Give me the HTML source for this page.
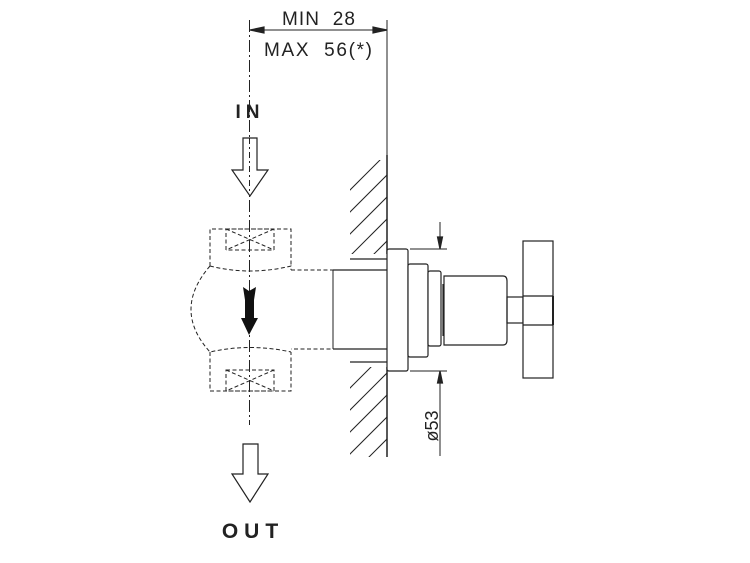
<!DOCTYPE html>
<html><head><meta charset="utf-8"><style>body{margin:0;background:#fff}svg{display:block}</style></head><body>
<svg width="750" height="563" viewBox="0 0 750 563" xmlns="http://www.w3.org/2000/svg" font-family="Liberation Sans, sans-serif">
<defs><clipPath id="hc"><rect x="350" y="160" width="37" height="297"/></clipPath></defs>
<g stroke="#222" fill="none" stroke-width="1.2">
<line x1="249.5" y1="20" x2="249.5" y2="425" stroke-dasharray="12,3,2,3" stroke-width="1"/>
<line x1="387" y1="20" x2="387" y2="160" stroke-width="1"/>
<line x1="250" y1="30" x2="387" y2="30" stroke-width="1"/>
<path d="M250,30 l14,-3 v6z M387,30 l-14,-3 v6z" fill="#222"/>
<line x1="387" y1="155" x2="387" y2="457" stroke-width="1.5"/>
<g clip-path="url(#hc)" stroke-width="1">
<line x1="330" y1="210" x2="390" y2="150"/><line x1="330" y1="232" x2="390" y2="172"/>
<line x1="330" y1="254" x2="390" y2="194"/><line x1="330" y1="276" x2="390" y2="216"/>
<line x1="330" y1="298" x2="390" y2="238"/><line x1="330" y1="320" x2="390" y2="260"/>
<line x1="330" y1="342" x2="390" y2="282"/><line x1="330" y1="364" x2="390" y2="304"/>
<line x1="330" y1="386" x2="390" y2="326"/><line x1="330" y1="408" x2="390" y2="348"/>
<line x1="330" y1="430" x2="390" y2="370"/><line x1="330" y1="452" x2="390" y2="392"/>
<line x1="330" y1="474" x2="390" y2="414"/><line x1="330" y1="496" x2="390" y2="436"/>
<line x1="330" y1="518" x2="390" y2="458"/>
</g>
<rect x="349" y="254" width="38" height="113" fill="#fff" stroke="none"/>
<line x1="350" y1="259" x2="387" y2="259"/><line x1="350" y1="362" x2="387" y2="362"/>
<g stroke-dasharray="4,2.5" stroke-width="1">
<path d="M210,266 V229 H291 V266"/>
<rect x="226" y="229" width="48" height="21"/>
<path d="M226,229 L274,250 M274,229 L226,250"/>
<path d="M210,266 Q250,276 291,266 V270 M210,266 Q172,310 210,352 Q250,343 291,352"/>
<path d="M210,352 V391 H291 V352"/>
<rect x="226" y="370" width="48" height="21"/>
<path d="M226,370 L274,391 M274,370 L226,391"/>
<path d="M291,270 H333 V349 H291"/>
</g>
<line x1="333" y1="270" x2="387" y2="270"/><line x1="333" y1="349" x2="387" y2="349"/>
<line x1="333" y1="270" x2="333" y2="349" stroke-dasharray="4,2.5" stroke-width="1"/>
<rect x="387" y="249" width="21" height="122" rx="2" fill="#fff"/>
<rect x="408" y="264" width="20" height="93" rx="2" fill="#fff"/>
<rect x="428" y="271" width="13" height="75" rx="2" fill="#fff"/>
<line x1="443" y1="284" x2="443" y2="336"/>
<path d="M444,276 H503 Q507,276 507,281 V340 Q507,345 503,345 H444 Z" fill="#fff"/>
<rect x="507" y="297" width="16" height="26"/>
<rect x="523" y="241" width="30" height="137" fill="#fff"/>
<line x1="523" y1="296" x2="553" y2="296"/><line x1="523" y1="325" x2="553" y2="325"/>
<line x1="553" y1="296" x2="553" y2="325" stroke-width="2"/>
<line x1="410" y1="249" x2="447" y2="249" stroke-width="1"/>
<line x1="410" y1="371" x2="447" y2="371" stroke-width="1"/>
<line x1="440" y1="222" x2="440" y2="249" stroke-width="1"/>
<line x1="440" y1="371" x2="440" y2="456" stroke-width="1"/>
<path d="M440,249 l-2.5,-12 h5z M440,371 l-2.5,12 h5z" fill="#222"/>
<path d="M243,138 H257 V170 H268 L250,196 L232,170 H243 Z" fill="#fff"/>
<path d="M243,444 H258 V474 H268 L250,502 L232,474 H243 Z" fill="#fff"/>
</g>
<line x1="249.5" y1="138" x2="249.5" y2="194" stroke="#222" stroke-width="1" stroke-dasharray="6,3,2,3"/>
<path d="M243,287 L249,291 L256,287 L254,300 V318 H258 L249,335 L241,318 H245 V300 Z" fill="#111"/>
<g fill="#222">
<text x="282" y="25" font-size="19" xml:space="preserve" textLength="73">MIN  28</text>
<text x="264" y="56" font-size="19" xml:space="preserve" textLength="108">MAX  56(*)</text>
<text x="250" y="118" font-size="19" font-weight="bold" text-anchor="middle" letter-spacing="5">IN</text>
<text x="253" y="538" font-size="21" font-weight="bold" text-anchor="middle" letter-spacing="6">OUT</text>
<text transform="translate(438,426) rotate(-90)" font-size="18" text-anchor="middle">ø53</text>
</g>
</svg>
</body></html>
